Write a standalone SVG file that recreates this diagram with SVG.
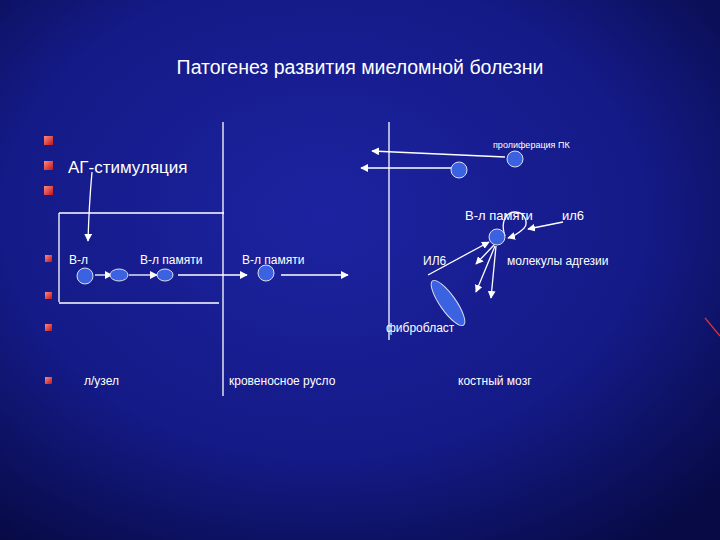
<svg xmlns="http://www.w3.org/2000/svg" width="720" height="540" viewBox="0 0 720 540">
<defs>
<radialGradient id="bg" cx="0.45" cy="0.4" r="0.75"><stop offset="0" stop-color="#1d23a0"/><stop offset="0.6" stop-color="#141a86"/><stop offset="1" stop-color="#070a44"/></radialGradient>
<linearGradient id="bul" x1="0" y1="0" x2="1" y2="1"><stop offset="0" stop-color="#ff8a80"/><stop offset="1" stop-color="#c0141a"/></linearGradient>
<marker id="ah" viewBox="0 0 10 10" refX="9" refY="5" markerWidth="6" markerHeight="6" orient="auto"><path d="M0,0L10,5L0,10z" fill="#fff"/></marker>
<style>
.t{font-family:"Liberation Sans",Arial,sans-serif;fill:#fff}
.c{fill:#3b62e0;stroke:#dde;stroke-width:1}
.l{stroke:#fff;stroke-width:1.3;fill:none}
.a{stroke:#fff;stroke-width:1.3;fill:none;marker-end:url(#ah)}
</style>
</defs>
<rect width="720" height="540" fill="url(#bg)"/>
<text class="t" x="360" y="74" font-size="19.5" text-anchor="middle">Патогенез развития миеломной болезни</text>
<g fill="url(#bul)">
<rect x="44" y="136" width="9" height="9"/><rect x="44" y="161" width="9" height="9"/><rect x="44" y="186" width="9" height="9"/>
<rect x="45" y="255" width="7" height="7"/><rect x="45" y="292" width="7" height="7"/><rect x="45" y="324" width="7" height="7"/><rect x="45" y="377" width="7" height="7"/>
</g>
<line x1="705" y1="318" x2="720" y2="336" stroke="#d33" stroke-width="1.2"/>
<g id="frame" class="l">
<path d="M59,213H224M59,213V302M59,303H219"/>
<line x1="223" y1="122" x2="223" y2="396"/>
<line x1="389" y1="122" x2="389" y2="340"/>
</g>
<g id="labels" font-size="12">
<text class="t" x="68" y="173" font-size="17">АГ-стимуляция</text>
<text class="t" x="69" y="264">В-л</text>
<text class="t" x="140" y="264">В-л памяти</text>
<text class="t" x="242" y="264">В-л памяти</text>
<text class="t" x="493" y="148" font-size="9">пролиферация ПК</text>
<text class="t" x="465" y="220" font-size="13">В-л памяти</text>
<text class="t" x="562" y="220" font-size="13">ил6</text>
<text class="t" x="423" y="265">ИЛ6</text>
<text class="t" x="507" y="265">молекулы адгезии</text>
<text class="t" x="386" y="332">фибробласт</text>
<text class="t" x="84" y="385">л/узел</text>
<text class="t" x="229" y="385">кровеносное русло</text>
<text class="t" x="458" y="385">костный мозг</text>
</g>
<g id="connectors">
<path class="a" d="M92,172Q89,205 88,241"/>
<line class="a" x1="95" y1="275" x2="112" y2="275"/>
<line class="a" x1="129" y1="275" x2="157" y2="275"/>
<line class="a" x1="178" y1="275" x2="247" y2="275"/>
<line class="a" x1="281" y1="275" x2="348" y2="275"/>
<line class="a" x1="505" y1="157" x2="372" y2="151"/>
<line class="a" x1="451" y1="168" x2="361" y2="168"/>
<line class="a" x1="563" y1="222" x2="528" y2="229"/>
<path class="l" d="M505,236C500,222 506,212 515,212C525,212 530,224 522,230"/>
<path class="a" d="M522,230Q515,236 508,238"/>
<line class="a" x1="428" y1="275" x2="489" y2="242"/>
<line class="a" x1="494" y1="245" x2="476" y2="264"/>
<line class="a" x1="495" y1="246" x2="476" y2="292"/>
<line class="a" x1="496" y1="246" x2="491" y2="298"/>
</g>
<g id="n1"><circle class="c" cx="85" cy="276" r="8"/></g>
<g id="n2"><ellipse class="c" cx="119" cy="275" rx="9" ry="6"/></g>
<g id="n3"><ellipse class="c" cx="165" cy="275" rx="8" ry="6"/></g>
<g id="n4"><circle class="c" cx="266" cy="273" r="8"/></g>
<g id="n5"><circle class="c" cx="459" cy="170" r="8"/></g>
<g id="n6"><circle class="c" cx="515" cy="159" r="8"/></g>
<g id="n7"><circle class="c" cx="497" cy="237" r="8"/></g>
<g id="fib"><ellipse class="c" cx="448" cy="303" rx="8" ry="27" transform="rotate(-35 448 303)"/></g>
</svg>
